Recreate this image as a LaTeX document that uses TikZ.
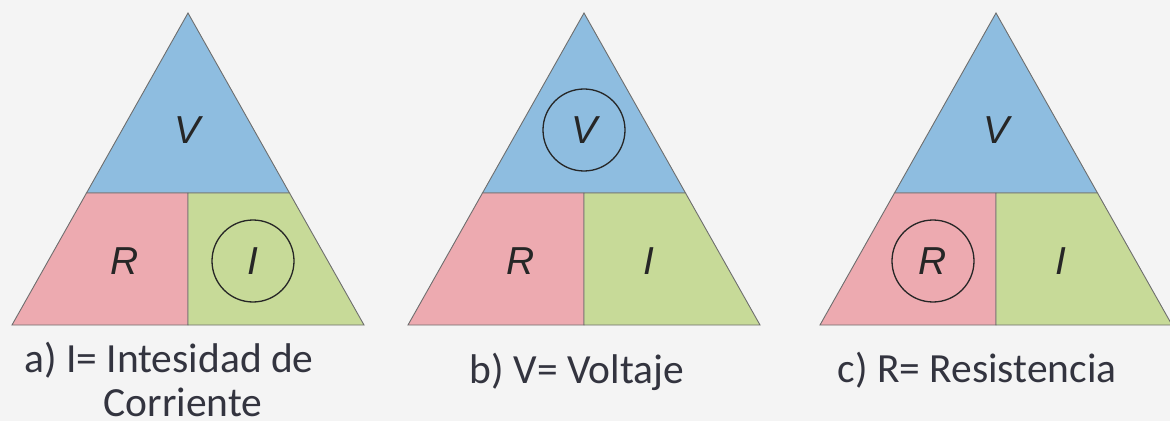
\documentclass[tikz,border=0pt]{standalone}
\usepackage{fontspec}
\setmainfont{Carlito}
\newfontfamily\lblfont{Liberation Sans}
\usepackage{xcolor}
\usetikzlibrary{positioning}
\definecolor{ohmbg}{HTML}{F4F4F4}
\definecolor{ohmblue}{HTML}{8EBDE0}
\definecolor{ohmpink}{HTML}{EDAAB0}
\definecolor{ohmgreen}{HTML}{C7DA98}
\definecolor{ohmedge}{HTML}{6E6E6E}
\definecolor{ohmtext}{HTML}{33343F}
\tikzset{
  region/.style ={draw=ohmedge, line width=0.9pt, line join=miter},
  lbl/.style    ={inner sep=0pt, font=\lblfont\itshape\fontsize{39}{39}\selectfont,
                  text=black!85},
  noring/.style ={},
  ringed/.style ={draw=black!85, line width=1.3pt, circle, minimum size=82pt},
  caption/.style={font=\fontsize{41.5}{48}\selectfont, text=ohmtext, inner sep=0pt},
}

\begin{document}
\begin{tikzpicture}[x=1pt,y=1pt]
  \fill[ohmbg] (0,0) rectangle (1170,421);
  \useasboundingbox (0,0) rectangle (1170,421);

  % the three triangles
  \foreach \cx/\t/\rv/\rr/\ri in {188/a/noring/noring/ringed,
      584/b/ringed/noring/noring, 996/c/noring/ringed/noring} {
    \coordinate (top\t) at (\cx,408);
    \coordinate (bl\t)  at (\cx-176,96);
    \coordinate (br\t)  at (\cx+176,96);
    \coordinate (ml\t)  at (\cx-101.5,228);
    \coordinate (mr\t)  at (\cx+101.5,228);
    \coordinate (mm\t)  at (\cx,228);
    \coordinate (bm\t)  at (\cx,96);
    \filldraw[region, fill=ohmblue]  (top\t) -- (mr\t) -- (ml\t) -- cycle;
    \filldraw[region, fill=ohmpink]  (ml\t) -- (mm\t) -- (bm\t) -- (bl\t) -- cycle;
    \filldraw[region, fill=ohmgreen] (mm\t) -- (mr\t) -- (br\t) -- (bm\t) -- cycle;
    \node[lbl, \rv] (v\t) at (\cx,291) {V};
    \node[lbl, \rr] (r\t) at (\cx-63,160) {R};
    \node[lbl, \ri] (i\t) at (\cx+65,160) {I};
  }

  % captions
  \node[caption] (capa) at (169,61) {a) I= Intesidad de};
  \node[caption] (capb) at (183,19) {Corriente};
  \node[caption] (capc) at (577,49) {b) V= Voltaje};
  \node[caption] (capd) at (977,51) {c) R= Resistencia};
\end{tikzpicture}
\end{document}
